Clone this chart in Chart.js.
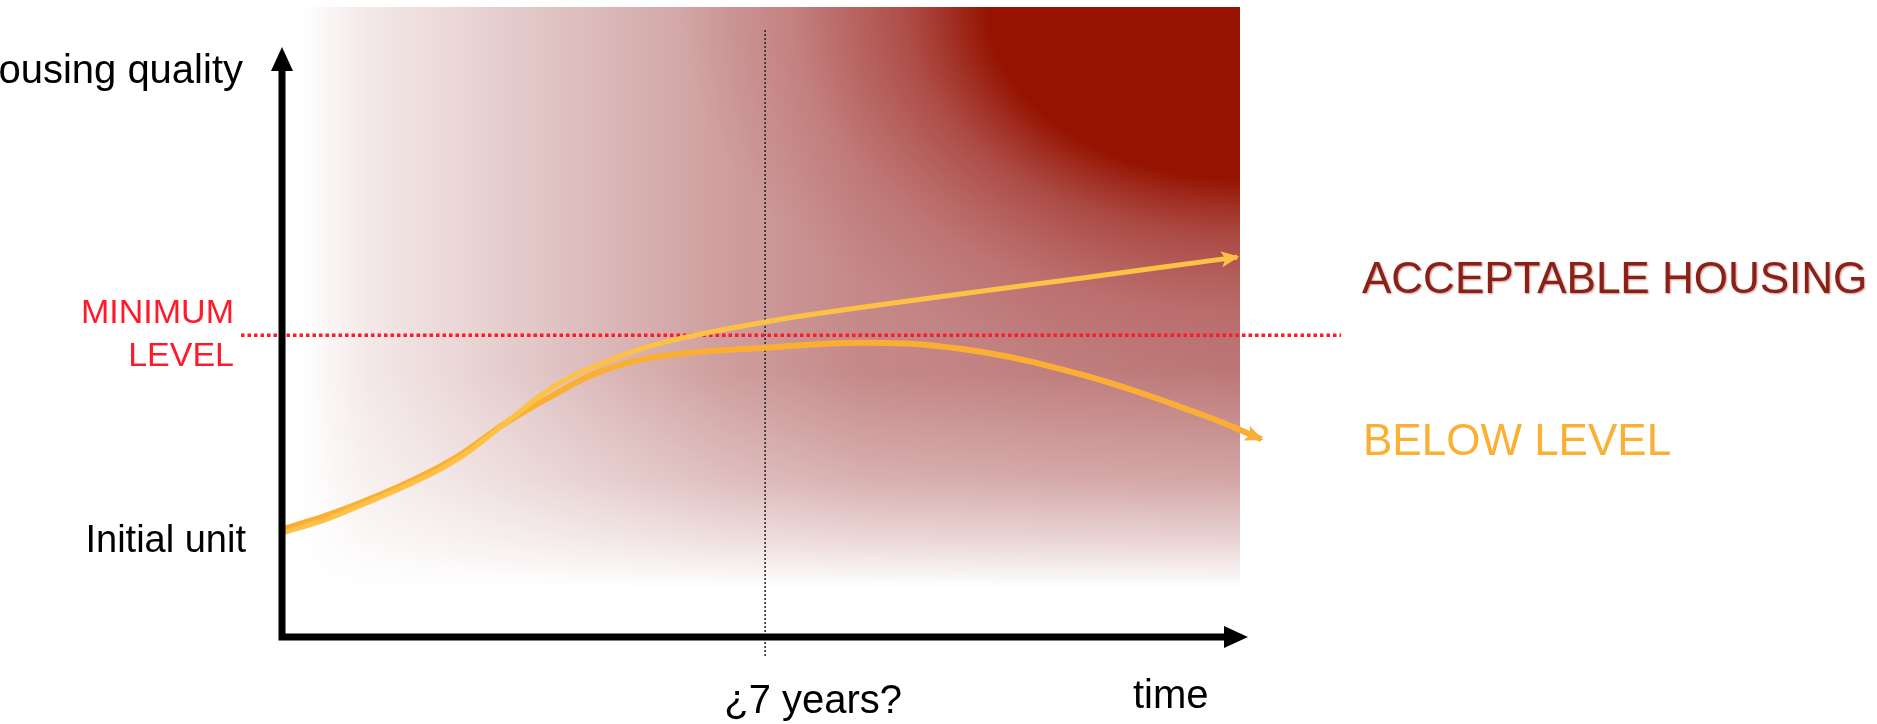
<!DOCTYPE html>
<html lang="en">
<head>
    <meta charset="UTF-8">
    <title>Housing quality over time</title>
    <script src="https://cdn.jsdelivr.net/npm/chart.js"></script>
    <style>
        html, body { margin: 0; padding: 0; background: #fff; }
        #wrap { width: 1877px; height: 724px; position: relative; }
    </style>
</head>
<body>
    <div id="wrap"><canvas id="chart"></canvas></div>

    <script>
        // Curves (x = years, y = housing quality, 0..10)
        const acceptableYears   = [0, 0.62, 1.14, 1.84, 2.54, 3.23, 3.93, 4.63, 5.51, 7.0, 8.12, 9.86, 11.6, 13.84];
        const acceptableQuality = [1.65, 1.86, 2.09, 2.42, 2.82, 3.39, 3.97, 4.34, 4.67, 5.0, 5.19, 5.45, 5.70, 6.03];

        const belowYears   = [0, 0.62, 1.14, 1.84, 2.54, 3.23, 3.93, 4.63, 5.51, 7.0, 8.46, 9.86, 11.6, 13.35, 14.19];
        const belowQuality = [1.71, 1.92, 2.13, 2.46, 2.86, 3.39, 3.84, 4.22, 4.46, 4.59, 4.67, 4.57, 4.16, 3.52, 3.14];

        const minimumLevel = 4.79;   // red dotted line
        const markerYear = 7;        // "¿7 years?" guide

        const FONT = '"Liberation Sans", Arial, sans-serif';

        const toPoints = (xs, ys) => xs.map((x, i) => ({ x: x, y: ys[i] }));

        // background, guides, axes, arrowheads and labels
        const decor = {
            id: 'decor',
            beforeDatasetsDraw(chart) {
                const ctx = chart.ctx;
                const area = chart.chartArea;
                const xs = chart.scales.x, ys = chart.scales.y;

                // shaded box
                const bx0 = area.left + 18, bx1 = area.right, by0 = area.top, by1 = area.bottom - 49;
                ctx.save();
                ctx.beginPath();
                ctx.rect(bx0, by0, bx1 - bx0, by1 - by0);
                ctx.clip();

                const h = ctx.createLinearGradient(bx0, 0, bx1, 0);
                h.addColorStop(0, '#ffffff');
                h.addColorStop(0.07, '#f4e9e9');
                h.addColorStop(0.25, '#e2c7c7');
                h.addColorStop(0.45, '#cf9e9e');
                h.addColorStop(0.6, '#c58888');
                h.addColorStop(0.8, '#c07e7e');
                h.addColorStop(1, '#bd7878');
                ctx.fillStyle = h;
                ctx.fillRect(bx0, by0, bx1 - bx0, by1 - by0);

                // dark red corner
                ctx.save();
                ctx.translate(bx1, by0);
                ctx.scale(1, 380 / 560);
                const r = ctx.createRadialGradient(0, 0, 0, 0, 0, 560);
                r.addColorStop(0, 'rgba(149,19,0,1)');
                r.addColorStop(0.45, 'rgba(149,19,0,1)');
                r.addColorStop(0.6, 'rgba(158,38,28,0.58)');
                r.addColorStop(0.8, 'rgba(168,58,52,0.2)');
                r.addColorStop(1, 'rgba(170,70,70,0)');
                ctx.fillStyle = r;
                ctx.fillRect(-1000, 0, 1000, 1500);
                ctx.restore();

                // fade to white at the bottom
                const v = ctx.createLinearGradient(0, by0 + 365, 0, by1);
                v.addColorStop(0, 'rgba(255,255,255,0)');
                v.addColorStop(0.5, 'rgba(255,255,255,0.34)');
                v.addColorStop(0.78, 'rgba(255,255,255,0.68)');
                v.addColorStop(1, 'rgba(255,255,255,1)');
                ctx.fillStyle = v;
                ctx.fillRect(bx0, by0, bx1 - bx0, by1 - by0);
                ctx.restore();

                // vertical dotted guide
                const gx = xs.getPixelForValue(markerYear);
                ctx.save();
                ctx.strokeStyle = '#222';
                ctx.lineWidth = 1.5;
                ctx.setLineDash([2, 2]);
                ctx.beginPath();
                ctx.moveTo(gx, area.top + 23);
                ctx.lineTo(gx, area.bottom + 20);
                ctx.stroke();

                // minimum level
                const my = ys.getPixelForValue(minimumLevel);
                ctx.strokeStyle = '#ff1a2a';
                ctx.lineWidth = 3.5;
                ctx.setLineDash([3.5, 3]);
                ctx.beginPath();
                ctx.moveTo(area.left - 41, my);
                ctx.lineTo(area.right + 101, my);
                ctx.stroke();
                ctx.restore();
            },
            afterDatasetsDraw(chart) {
                const ctx = chart.ctx;
                const area = chart.chartArea;
                const xs = chart.scales.x, ys = chart.scales.y;
                const ox = xs.getPixelForValue(0), oy = ys.getPixelForValue(0);

                // arrowheads on the curves
                chart.data.datasets.forEach((ds, i) => {
                    const pts = chart.getDatasetMeta(i).data;
                    const a = pts[pts.length - 2], b = pts[pts.length - 1];
                    const ang = Math.atan2(b.y - a.y, b.x - a.x);
                    ctx.save();
                    ctx.translate(b.x, b.y);
                    ctx.rotate(ang);
                    ctx.fillStyle = ds.borderColor;
                    ctx.beginPath();
                    ctx.moveTo(2, 0);
                    ctx.lineTo(-16, -8);
                    ctx.lineTo(-12, 0);
                    ctx.lineTo(-16, 8);
                    ctx.closePath();
                    ctx.fill();
                    ctx.restore();
                });

                // axes
                ctx.save();
                ctx.strokeStyle = '#000';
                ctx.fillStyle = '#000';
                ctx.lineWidth = 7;
                ctx.beginPath();
                ctx.moveTo(ox, oy + 3.5);
                ctx.lineTo(ox, area.top + 62);
                ctx.moveTo(ox - 3.5, oy);
                ctx.lineTo(area.right - 16, oy);
                ctx.stroke();
                ctx.beginPath();
                ctx.moveTo(ox, area.top + 40);
                ctx.lineTo(ox - 11, area.top + 64);
                ctx.lineTo(ox + 11, area.top + 64);
                ctx.closePath();
                ctx.fill();
                ctx.beginPath();
                ctx.moveTo(area.right + 8, oy);
                ctx.lineTo(area.right - 16, oy - 11);
                ctx.lineTo(area.right - 16, oy + 11);
                ctx.closePath();
                ctx.fill();

                // labels
                ctx.textBaseline = 'alphabetic';
                ctx.textAlign = 'right';
                ctx.fillStyle = '#000';
                ctx.font = '40px ' + FONT;
                ctx.fillText('Housing quality', ox - 39, 83);
                ctx.font = '38px ' + FONT;
                ctx.fillText('Initial unit', ox - 36, 552);

                const my = ys.getPixelForValue(minimumLevel);
                ctx.fillStyle = '#ff1a2a';
                ctx.font = '34px ' + FONT;
                ctx.fillText('MINIMUM', ox - 48, my - 12);
                ctx.fillText('LEVEL', ox - 48, my + 31);

                ctx.fillStyle = '#000';
                ctx.font = '40px ' + FONT;
                ctx.textAlign = 'center';
                ctx.fillText('¿7 years?', xs.getPixelForValue(markerYear) + 48, 713);
                ctx.textAlign = 'left';
                ctx.fillText('time', area.right - 107, 708);

                ctx.font = '44px ' + FONT;
                ctx.fillStyle = '#8a2016';
                ctx.shadowColor = 'rgba(120,20,10,0.45)';
                ctx.shadowBlur = 2;
                ctx.shadowOffsetX = 1;
                ctx.shadowOffsetY = 1;
                ctx.fillText('ACCEPTABLE HOUSING', 1362, 293);
                ctx.shadowColor = 'rgba(0,0,0,0)';
                ctx.fillStyle = '#fbb034';
                ctx.fillText('BELOW LEVEL', 1363, 455);
                ctx.restore();
            }
        };

        const chart = new Chart(document.getElementById('chart'), {
            type: 'line',
            data: {
                datasets: [
                    {
                        label: 'Acceptable housing',
                        data: toPoints(acceptableYears, acceptableQuality),
                        borderColor: '#fdc146',
                        borderWidth: 5,
                        borderCapStyle: 'butt'
                    },
                    {
                        label: 'Below level',
                        data: toPoints(belowYears, belowQuality),
                        borderColor: '#fbae34',
                        borderWidth: 6,
                        borderCapStyle: 'butt'
                    }
                ]
            },
            options: {
                responsive: true,
                maintainAspectRatio: false,
                animation: false,
                layout: { padding: { left: 282, right: 637, top: 7, bottom: 87 } },
                elements: {
                    point: { radius: 0, hoverRadius: 0 },
                    line: { tension: 0.4, fill: false }
                },
                datasets: { line: { clip: false } },
                scales: {
                    x: { type: 'linear', min: 0, max: 13.88, display: false },
                    y: { type: 'linear', min: 0, max: 10, display: false }
                },
                plugins: {
                    legend: { display: false },
                    tooltip: { enabled: false }
                }
            },
            plugins: [decor]
        });
    </script>
</body>
</html>
